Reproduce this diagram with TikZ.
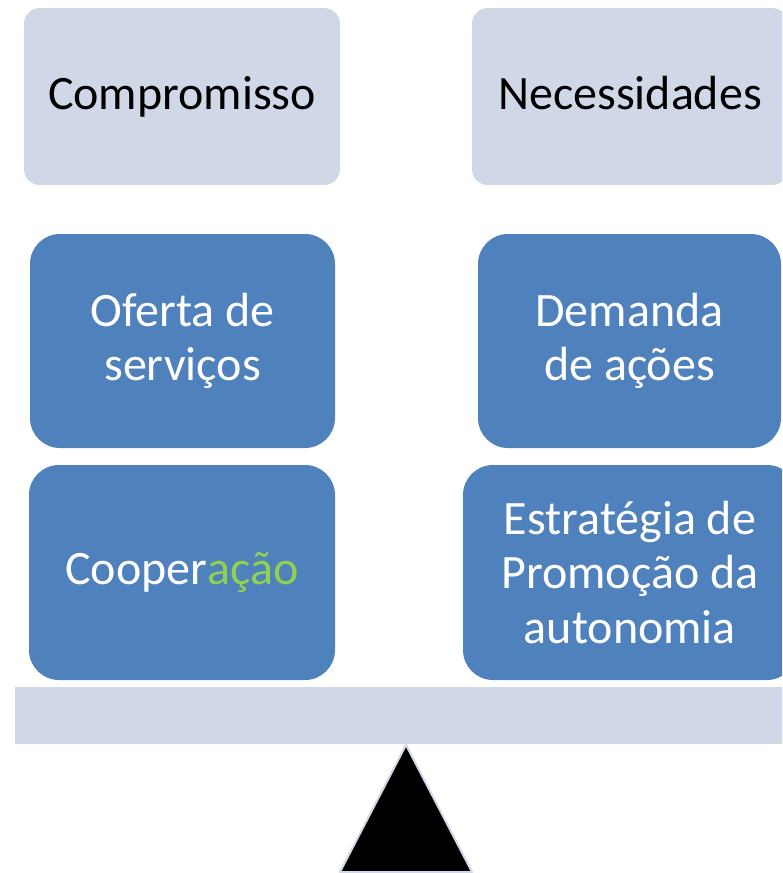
\documentclass[tikz,border=0pt]{standalone}
\usepackage{fontspec}
\setmainfont{Carlito}
\definecolor{lightbox}{RGB}{208,216,232}
\definecolor{bluebox}{RGB}{79,129,189}
\definecolor{greentext}{RGB}{146,208,80}
\begin{document}
\begin{tikzpicture}[x=1pt,y=-1pt,
  topbox/.style={fill=lightbox,draw=none,rounded corners=16pt,inner sep=0pt,align=center,
    font=\fontsize{48}{54.5}\selectfont,text=black,text height=35pt,text depth=10pt},
  midbox/.style={fill=bluebox,draw=none,rounded corners=30pt,inner sep=0pt,align=center,
    font=\fontsize{48}{54.5}\selectfont,text=white}]
\useasboundingbox (0,0) rectangle (782,873);
\clip (0,0) rectangle (782,873);
\node[topbox,minimum width=316pt,minimum height=177pt] (comp) at (182,96.5) {Compromisso};
\node[topbox,minimum width=316pt,minimum height=177pt] (nec) at (630,96.5) {Necessidades};
\node[midbox,minimum width=305pt,minimum height=214pt] (oferta) at (182.5,341) {Oferta de\\servi\c{c}os};
\node[midbox,minimum width=303pt,minimum height=214pt] (demanda) at (629.5,341) {Demanda\\de a\c{c}\~oes};
\node[midbox,minimum width=306pt,minimum height=215pt] (coop) at (182,572.5) {Cooper\textcolor{greentext}{a\c{c}\~ao}};
\node[midbox,minimum width=334pt,minimum height=215pt] (estr) at (630,572.5) {Estrat\'egia de\\Promo\c{c}\~ao da\\autonomia};
\fill[lightbox] (15,687) rectangle (800,744);
\coordinate (apex) at (406,745);
\coordinate (bl) at (340,872);
\coordinate (br) at (472,872);
\draw[lightbox,line width=2pt,fill=black,line join=round] (apex) -- (br) -- (bl) -- cycle;
\end{tikzpicture}
\end{document}
